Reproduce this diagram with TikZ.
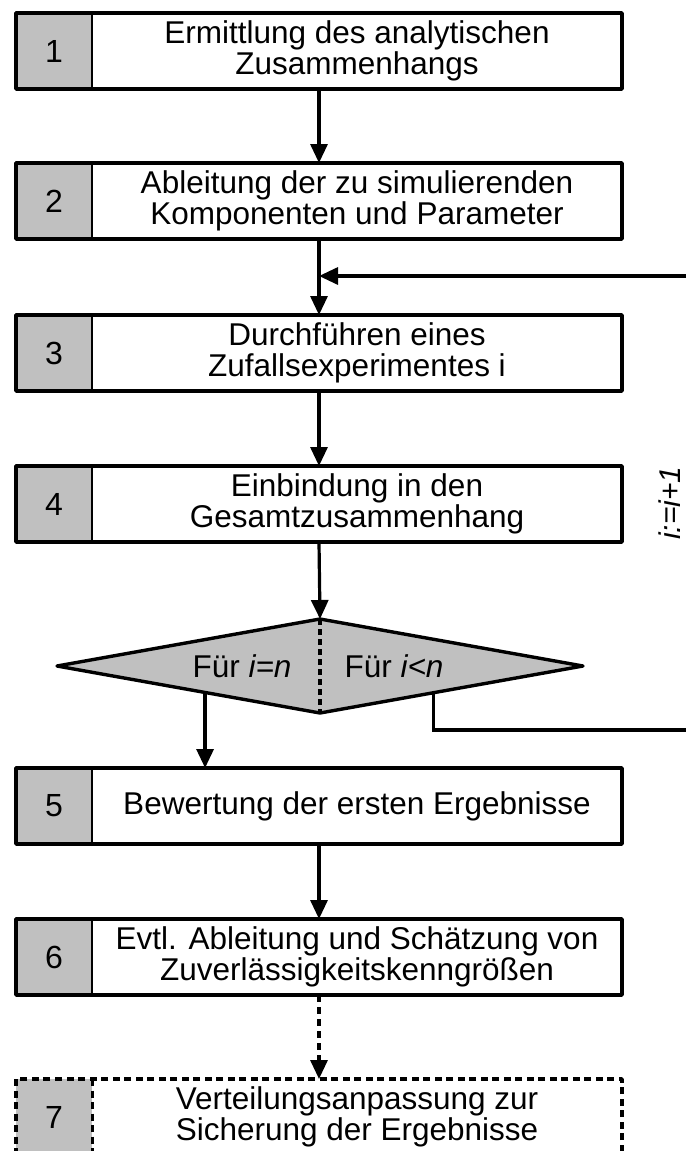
\documentclass[tikz,border=0pt]{standalone}
\usepackage{fontspec}
\setmainfont{Liberation Sans}
\usetikzlibrary{arrows.meta,calc,shapes.geometric}
\definecolor{cellgray}{HTML}{C0C0C0}
\begin{document}
\begin{tikzpicture}[x=1pt,y=-1pt,
  txt/.style={font=\fontsize{31.5}{31}\selectfont},
  numcell/.style={font=\fontsize{32}{32}\selectfont, fill=cellgray, minimum width=76pt, minimum height=76pt, inner sep=0pt, outer sep=0pt},
  textcell/.style={txt, fill=white, minimum width=530pt, minimum height=76pt, inner sep=0pt, outer sep=0pt, align=center},
  frame/.style={draw, line width=3.6pt, line join=round, minimum width=606pt, minimum height=76pt, inner sep=0pt, outer sep=0pt},
  divider/.style={line width=2pt},
  dashframe/.style={dash pattern=on 7pt off 4.5pt},
  conn/.style={line width=3.2pt},
  arr/.style={-{Triangle[width=17pt,length=19pt]}},
  decision/.style={diamond, draw, fill=cellgray, line width=3.4pt, line join=round, minimum width=526pt, minimum height=94pt, inner sep=0pt, outer sep=0pt}
]
\useasboundingbox (0,0) rectangle (686,1151);

% process steps: grey number cell, white text cell, outer frame
\node[numcell] (c1) at (54,51) {1};
\node[textcell] (t1) at (357,51) {Ermittlung des analytischen\\Zusammenhangs};
\draw[divider] (c1.north east) -- (c1.south east);
\node[frame] (s1) at (319,51) {};

\node[numcell] (c2) at (54,201) {2};
\node[textcell] (t2) at (357,201) {Ableitung der zu simulierenden\\Komponenten und Parameter};
\draw[divider] (c2.north east) -- (c2.south east);
\node[frame] (s2) at (319,201) {};

\node[numcell] (c3) at (54,353) {3};
\node[textcell] (t3) at (357,353) {Durchführen eines\\Zufallsexperimentes i};
\draw[divider] (c3.north east) -- (c3.south east);
\node[frame] (s3) at (319,353) {};

\node[numcell] (c4) at (54,504) {4};
\node[textcell] (t4) at (357,504) {Einbindung in den\\Gesamtzusammenhang};
\draw[divider] (c4.north east) -- (c4.south east);
\node[frame] (s4) at (319,504) {};

\node[numcell] (c5) at (54,806) {5};
\node[textcell] (t5) at (357,806) {Bewertung der ersten Ergebnisse};
\draw[divider] (c5.north east) -- (c5.south east);
\node[frame] (s5) at (319,806) {};

\node[numcell] (c6) at (54,957) {6};
\node[textcell] (t6) at (357,957) {Evtl. Ableitung und Schätzung von\\Zuverlässigkeitskenngrößen};
\draw[divider] (c6.north east) -- (c6.south east);
\node[frame] (s6) at (319,957) {};

\node[numcell] (c7) at (54,1117) {7};
\node[textcell] (t7) at (357,1117) {Verteilungsanpassung zur\\Sicherung der Ergebnisse};
\draw[divider, line width=3pt, dashframe] (c7.north east) -- (c7.south east);
\node[frame, dashframe] (s7) at (319,1117) {};

% decision
\node[decision] (d) at (320,666) {};
\draw[line width=3.2pt, dash pattern=on 6pt off 4pt] (d.north) -- (d.south);
\node[txt] (dl-text) at (242,666) {Für \textit{i=n}};
\node[txt] (dr-text) at (394,666) {Für \textit{i<n}};

% connectors
\draw[conn, arr] (s1.south) -- (s2.north);
\draw[conn, arr] (s2.south) -- (s3.north);
\draw[conn, arr] (s3.south) -- (s4.north);
\draw[conn, arr] (s4.south) -- (d.north);
\draw[conn, arr] (s5.south) -- (s6.north);
\draw[conn, arr, dash pattern=on 7pt off 5pt] (s6.south) -- (s7.north);

\coordinate (dl) at ($(d.west)!0.563!(d.south)$);
\coordinate (dr) at ($(d.south)!0.433!(d.east)$);
\draw[conn, arr] (dl) -- (dl |- s5.north);

% loop back for the next experiment
\coordinate (loopB) at (686,730);
\coordinate (loopT) at (686,276);
\draw[conn] (dr) |- (loopB);
\draw[conn, arr] (loopT) -- (loopT -| s2.south);
\node[font=\fontsize{30}{30}\selectfont, inner sep=0pt, rotate=90] (inc) at (670,503) {\textit{i:=i+1}};
\end{tikzpicture}
\end{document}
